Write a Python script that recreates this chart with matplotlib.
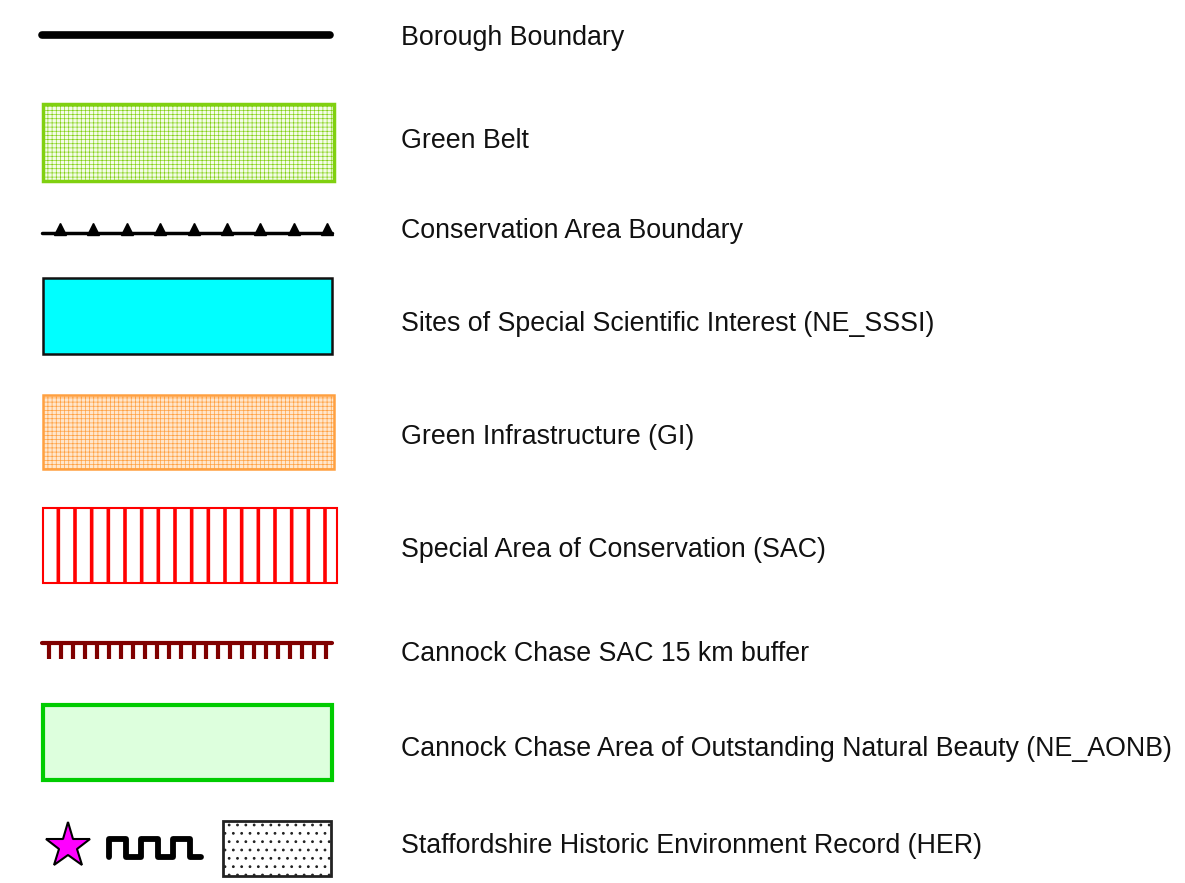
import numpy as np
import matplotlib.pyplot as plt
from matplotlib.patches import Rectangle

plt.rcParams['font.family'] = ['Liberation Sans', 'DejaVu Sans']

# legend entries (top to bottom)
labels = [
    "Borough Boundary",
    "Green Belt",
    "Conservation Area Boundary",
    "Sites of Special Scientific Interest (NE_SSSI)",
    "Green Infrastructure (GI)",
    "Special Area of Conservation (SAC)",
    "Cannock Chase SAC 15 km buffer",
    "Cannock Chase Area of Outstanding Natural Beauty (NE_AONB)",
    "Staffordshire Historic Environment Record (HER)",
]
# baseline of each label, in pixels from the top
label_y = [45, 148, 238, 331, 444, 557, 661, 756, 853]

fig = plt.figure(figsize=(11.85, 8.83), dpi=100)
ax = fig.add_axes([0, 0, 1, 1])
ax.set_xlim(0, 1185)
ax.set_ylim(883, 0)
ax.axis('off')


def box(x0, y0, x1, y1, **kw):
    p = Rectangle((x0, y0), x1 - x0, y1 - y0, **kw)
    ax.add_patch(p)
    return p


def hatch_lw(p, w):
    if hasattr(p, 'set_hatch_linewidth'):
        p.set_hatch_linewidth(w)


# borough boundary
ax.plot([42, 330], [35, 35], color='black', lw=5.5, solid_capstyle='round')

# green belt
p = box(43, 104, 334, 181, facecolor='#f4fce8', edgecolor='#80d010', lw=2.5, hatch='++++')
hatch_lw(p, 0.45)

# conservation area boundary
ax.plot([42, 332], [233, 233], color='black', lw=2.5, solid_capstyle='round')
ax.plot(np.linspace(60, 327, 9), np.full(9, 229), ls='none', marker='^',
        ms=8.5, color='black')

# SSSI
box(43, 278, 332, 354, facecolor='#00ffff', edgecolor='#111111', lw=1.8)

# green infrastructure
p = box(43, 395, 334, 469, facecolor='#ffe6cc', edgecolor='#ffa040', lw=1.8, hatch='++++')
hatch_lw(p, 0.5)

# SAC
p = box(43, 508, 337, 583, facecolor='white', edgecolor='#ff0000', lw=1.5, hatch='|')
hatch_lw(p, 2.6)

# Cannock Chase SAC buffer
ax.plot([42, 332], [643, 643], color='#800000', lw=3, solid_capstyle='round')
ax.plot(np.linspace(49, 326, 24), np.full(24, 650), ls='none', marker='|',
        ms=13, mew=3, color='#800000')

# AONB
box(43, 705, 332, 780, facecolor='#ddffdd', edgecolor='#00cc00', lw=3)

# HER: star, square wave, dotted box
ax.plot([68], [846], marker='*', ms=34, mfc='#ff00ff', mec='black', mew=1.5)
wave_x = [109, 109, 126, 126, 141, 141, 158, 158, 173, 173, 190, 190, 201]
wave_y = [857, 839, 839, 857, 857, 839, 839, 857, 857, 839, 839, 857, 857]
ax.plot(wave_x, wave_y, color='black', lw=4.2, solid_joinstyle='round',
        solid_capstyle='round')
p = box(223, 821, 331, 876, facecolor='white', edgecolor='#222222', lw=2, hatch='..')
hatch_lw(p, 0.8)

for lab, y in zip(labels, label_y):
    ax.text(401, y, lab, fontsize=19.3, va='baseline', ha='left', color='#111111')

fig.savefig('out.png', dpi=100)
